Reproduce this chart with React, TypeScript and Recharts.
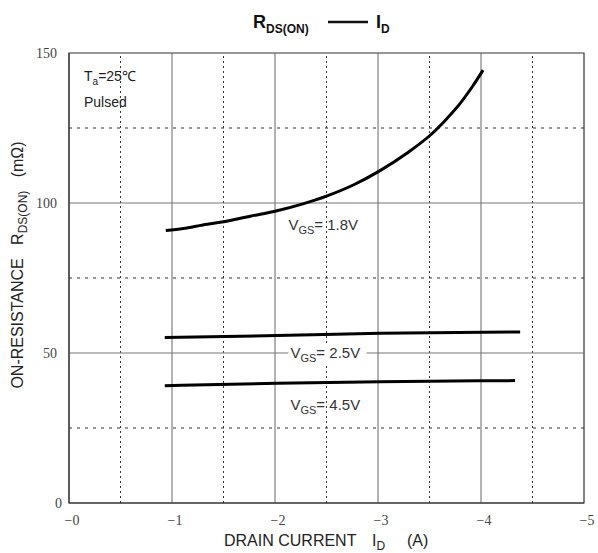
import React from "react";
import { LineChart, Line, XAxis, YAxis, ReferenceLine, ReferenceArea, ReferenceDot } from "recharts";

// Drain current (A) and on-resistance (mΩ) per gate voltage
const id18 = [-0.94, -1.11, -1.3, -1.54, -1.76, -2.02, -2.27, -2.5, -2.76, -3.02, -3.28, -3.52, -3.67, -3.8, -3.92, -4.02];
const r18 = [90.8, 91.5, 92.7, 94.0, 95.6, 97.4, 99.7, 102.3, 106, 110.8, 116.6, 123, 128.2, 133.3, 139.0, 144.3];
const id25 = [-0.93, -2.02, -3.02, -4.38];
const r25 = [55.2, 55.8, 56.6, 57.0];
const id45 = [-0.93, -2.02, -3.02, -4.33];
const r45 = [39.1, 39.9, 40.4, 40.8];

const xTicks = [0, -1, -2, -3, -4, -5];
const yTicks = [0, 50, 100, 150];
const xMajor = [-1, -2, -3, -4];
const xMinor = [-0.5, -1.5, -2.5, -3.5, -4.5];
const yMajor = [50, 100];
const yMinor = [25, 75, 125];

const labels = [
  { i: -2.13, r: 92.7, v: "1.8V", bg: false },
  { i: -2.15, r: 50, v: "2.5V", bg: true },
  { i: -2.15, r: 32.7, v: "4.5V", bg: false },
];

const toRows = (xs: number[], ys: number[]) => xs.map((x, k) => ({ i: x, r: ys[k] }));
const d18 = toRows(id18, r18);
const d25 = toRows(id25, r25);
const d45 = toRows(id45, r45);

const SANS = "'Liberation Sans', Arial, sans-serif";
const SERIF = "'Liberation Serif', 'DejaVu Serif', serif";

const XTick = (p: any) => (
  <text x={p.x + 3} y={p.y + 14} textAnchor="middle" fontFamily={SERIF} fontSize={14} fill="#444">
    {"\u2212" + Math.abs(p.payload.value)}
  </text>
);
const YTick = (p: any) => (
  <text x={p.payload.value === 0 ? 62 : 57} y={p.y + 5} textAnchor="end" fontFamily={SERIF} fontSize={14} fill="#444">
    {p.payload.value}
  </text>
);

const VgsLabel = (text: string, bg: boolean) => (p: any) => (
  <g>
    {bg && <rect x={p.cx - 2} y={p.cy - 10} width={78} height={20} fill="#fff" />}
    <text x={p.cx} y={p.cy + 5} fontFamily={SANS} fontSize={15} fill="#333">
      V<tspan fontSize={11} dy={4}>GS</tspan>
      <tspan dy={-4}>{"= " + text}</tspan>
    </text>
  </g>
);

export default function App() {
  return (
    <div style={{ position: "absolute", left: 0, top: 0, width: 598, height: 553, background: "#fff" }}>
      <LineChart width={598} height={553} margin={{ top: 53, right: 14, left: 0, bottom: 0 }}>
        <XAxis
          dataKey="i"
          type="number"
          domain={[-5, 0]}
          reversed
          ticks={xTicks}
          allowDataOverflow
          tickLine={false}
          axisLine={{ stroke: "#333" }}
          height={50}
          tick={<XTick />}
        />
        <YAxis
          type="number"
          domain={[0, 150]}
          ticks={yTicks}
          tickLine={false}
          axisLine={{ stroke: "#333" }}
          width={69}
          tick={<YTick />}
        />
        {xMinor.map((x) => (
          <ReferenceLine key={"xm" + x} x={x} stroke="#333" strokeDasharray="2 3" />
        ))}
        {yMinor.map((y) => (
          <ReferenceLine key={"ym" + y} y={y} stroke="#333" strokeDasharray="3 5" />
        ))}
        {xMajor.map((x) => (
          <ReferenceLine key={"xM" + x} x={x} stroke="#666" />
        ))}
        {yMajor.map((y) => (
          <ReferenceLine key={"yM" + y} y={y} stroke="#777" />
        ))}
        <ReferenceArea x1={0} x2={-5} y1={0} y2={150} fill="none" stroke="#333" strokeWidth={1.2} />
        <Line data={d18} dataKey="r" type="monotone" stroke="#000" strokeWidth={3} dot={false} isAnimationActive={false} />
        <Line data={d25} dataKey="r" type="monotone" stroke="#000" strokeWidth={3} dot={false} isAnimationActive={false} />
        <Line data={d45} dataKey="r" type="monotone" stroke="#000" strokeWidth={3} dot={false} isAnimationActive={false} />
        {labels.map((l) => (
          <ReferenceDot key={l.v} x={l.i} y={l.r} r={0} shape={VgsLabel(l.v, l.bg)} />
        ))}
      </LineChart>
      <svg width={598} height={553} style={{ position: "absolute", left: 0, top: 0, pointerEvents: "none" }}>
        <text x={253} y={28} fontFamily={SANS} fontSize={18} fontWeight="bold" fill="#111">
          R<tspan fontSize={12} dy={5}>DS(ON)</tspan>
        </text>
        <line x1={328} y1={22} x2={368} y2={22} stroke="#111" strokeWidth={2.5} />
        <text x={376} y={28} fontFamily={SANS} fontSize={18} fontWeight="bold" fill="#111">
          I<tspan fontSize={12} dy={5}>D</tspan>
        </text>
        <text x={84} y={81} fontFamily={SANS} fontSize={14} fill="#222">
          T<tspan fontSize={10} dy={4}>a</tspan>
          <tspan dy={-4}>=25℃</tspan>
        </text>
        <text x={84} y={107} fontFamily={SANS} fontSize={14} fill="#222">Pulsed</text>
        <text x={224} y={546} fontFamily={SANS} fontSize={16} fill="#222">
          DRAIN CURRENT
        </text>
        <text x={372} y={546} fontFamily={SANS} fontSize={16} fill="#222">
          I<tspan fontSize={12} dy={4}>D</tspan>
        </text>
        <text x={407} y={546} fontFamily={SANS} fontSize={16} fill="#222">(A)</text>
        <text
          transform="translate(23,265) rotate(-90)"
          textAnchor="middle"
          fontFamily={SANS}
          fontSize={16}
          fill="#222"
          xmlSpace="preserve"
        >
          {"ON-RESISTANCE   R"}
          <tspan fontSize={12} dy={4}>DS(ON)</tspan>
          <tspan dy={-4}>{"   (mΩ)"}</tspan>
        </text>
      </svg>
    </div>
  );
}
